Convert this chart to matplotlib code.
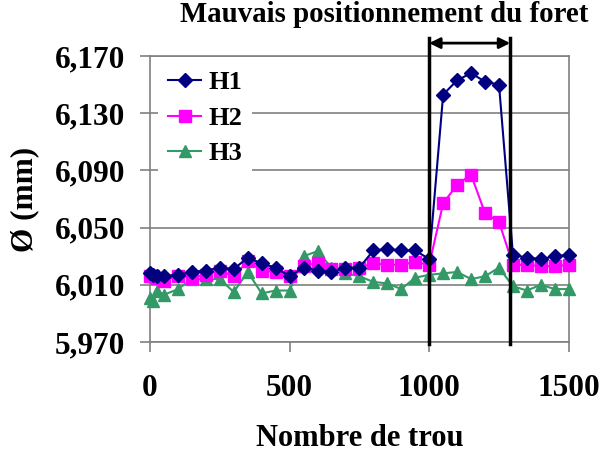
import matplotlib
matplotlib.use("Agg")
import matplotlib.pyplot as plt
from matplotlib.transforms import blended_transform_factory

# Hole numbers at which the diameter was measured
trous = [1, 10, 25, 50] + list(range(100, 1501, 50))

h1 = [6.018, 6.017, 6.016, 6.016, 6.017, 6.019, 6.020, 6.022, 6.021, 6.029,
      6.025, 6.022, 6.016, 6.022, 6.020, 6.019, 6.022, 6.022, 6.034, 6.035,
      6.034, 6.034, 6.028, 6.143, 6.153, 6.158, 6.152, 6.150, 6.031, 6.029,
      6.028, 6.030, 6.031]
h2 = [6.016, 6.016, 6.015, 6.013, 6.016, 6.015, 6.017, 6.020, 6.016, 6.0265,
      6.020, 6.019, 6.016, 6.023, 6.0255, 6.021, 6.021, 6.022, 6.025, 6.024,
      6.024, 6.026, 6.024, 6.067, 6.080, 6.087, 6.060, 6.054, 6.024, 6.024,
      6.023, 6.023, 6.024]
h3 = [6.001, 5.999, 6.006, 6.003, 6.007, 6.014, 6.014, 6.014, 6.005, 6.019,
      6.004, 6.006, 6.006, 6.030, 6.0335, 6.022, 6.018, 6.016, 6.012, 6.011,
      6.007, 6.015, 6.017, 6.018, 6.019, 6.014, 6.016, 6.022, 6.009, 6.006,
      6.010, 6.007, 6.007]

y_ticks = [5.970, 6.010, 6.050, 6.090, 6.130, 6.170]
y_labels = ["5,970", "6,010", "6,050", "6,090", "6,130", "6,170"]
x_ticks = [0, 500, 1000, 1500]
zone = [1000, 1290]

plt.rcParams["font.family"] = ["Liberation Serif", "DejaVu Serif"]
plt.rcParams["font.weight"] = "bold"

fig = plt.figure(figsize=(6.0, 4.57), dpi=100)
ax = fig.add_axes([0.25, 0.2516, 0.698, 0.6259])

grey = "#808080"
ax.plot(trous, h1, color="#000080", marker="D", ms=7, lw=1.5, label="H1",
        zorder=5, clip_on=False)
ax.plot(trous, h2, color="#FF00FF", marker="s", ms=8, lw=1.5, label="H2",
        zorder=4, clip_on=False)
ax.plot(trous, h3, color="#339966", marker="^", ms=9, lw=1.5, label="H3",
        zorder=3, clip_on=False)

ax.set_xlim(0, 1500)
ax.set_ylim(5.970, 6.170)
ax.set_yticks(y_ticks)
ax.set_yticklabels(y_labels)
ax.set_xticks(x_ticks)
ax.tick_params(axis="both", labelsize=22.5, length=7, width=1.2, color=grey,
               direction="out")
ax.tick_params(axis="y", pad=11)
ax.tick_params(axis="x", pad=16)
for lab in ax.get_xticklabels() + ax.get_yticklabels():
    lab.set_fontweight("bold")
ax.grid(axis="y", color=grey, lw=1.2)
ax.set_axisbelow(True)
for s in ax.spines.values():
    s.set_color(grey)
    s.set_linewidth(1.2)

ax.set_xlabel("Nombre de trou", fontsize=22, fontweight="bold")
ax.set_ylabel("Ø (mm)", fontsize=22.5, fontweight="bold")
ax.xaxis.set_label_coords(0.5, -0.339)
ax.xaxis.label.set_va("center")
ax.yaxis.set_label_coords(-0.298, 0.5)
ax.yaxis.label.set_va("center")

# Zone where the drill bit was badly positioned
tr = blended_transform_factory(ax.transData, ax.transAxes)
for xv in zone:
    ax.plot([xv, xv], [-0.008, 1.063], transform=tr, color="black", lw=2.5,
            clip_on=False, zorder=6)
ax.annotate("", xy=(zone[0], 1.045), xytext=(zone[1], 1.045),
            xycoords=tr, textcoords=tr,
            arrowprops=dict(arrowstyle="<|-|>", color="black", lw=2,
                            mutation_scale=16, shrinkA=0, shrinkB=0),
            annotation_clip=False)
fig.text(384 / 600, 1 - 15 / 457, "Mauvais positionnement du foret",
         ha="center", va="center", fontsize=20.8, fontweight="bold")

leg = ax.legend(loc="upper left", bbox_to_anchor=(0.0, 1.012), frameon=True,
                fontsize=19, handlelength=1.25, borderaxespad=0.3,
                labelspacing=0.45, handletextpad=0.25)
leg.get_frame().set_edgecolor("none")
leg.get_frame().set_facecolor("white")
leg.get_frame().set_alpha(1.0)
for t in leg.get_texts():
    t.set_fontweight("bold")

fig.savefig("out.png", dpi=100)
